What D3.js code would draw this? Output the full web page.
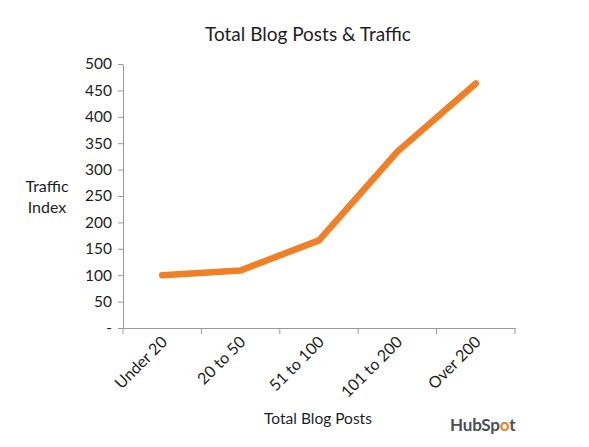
<!DOCTYPE html>
<html><head><meta charset="utf-8">
<script src="https://cdn.jsdelivr.net/npm/d3@7"></script>
<style>body{margin:0;background:#fff}svg{display:block}text{font-family:Lato,"Open Sans",sans-serif;fill:#1e1e1e}</style>
</head><body><svg id="c" width="589" height="447"></svg>
<script>
const categories = ["Under 20", "20 to 50", "51 to 100", "101 to 200", "Over 200"];
const trafficIndex = [100, 109, 166, 334, 463];
const yTickValues = [0, 50, 100, 150, 200, 250, 300, 350, 400, 450, 500];
const yTickLabels = ["-", "50", "100", "150", "200", "250", "300", "350", "400", "450", "500"];

const svg = d3.select("#c");
const x = d3.scaleBand().domain(categories).range([123, 515]);
const y = d3.scaleLinear().domain([0, 500]).range([328, 64]);

const yAxis = svg.append("g").attr("transform", "translate(123,0)")
  .call(d3.axisLeft(y).tickValues(yTickValues).tickFormat((d, i) => yTickLabels[i]).tickSize(5).tickPadding(6).tickSizeOuter(0));
yAxis.selectAll("line,path").attr("stroke", "#999");
yAxis.selectAll("text").attr("font-size", 15.5).style("font-family", "Lato,sans-serif").attr("fill", "#1e1e1e");

const xAxis = svg.append("g").attr("transform", "translate(0,328)")
  .call(d3.axisBottom(x).tickSize(0).tickFormat(""));
xAxis.selectAll("path").attr("stroke", "#999");
svg.append("g").selectAll("line")
  .data(categories.map(c => x(c)).concat([x.range()[1]]))
  .join("line").attr("x1", d => d).attr("x2", d => d).attr("y1", 328).attr("y2", 334).attr("stroke", "#999");

svg.append("g").selectAll("text").data(categories).join("text")
  .attr("transform", d => `translate(${x(d) + x.bandwidth() / 2 + 6},${343}) rotate(-45)`)
  .attr("text-anchor", "end").attr("font-size", 16).text(d => d);

const line = d3.line().x((d, i) => x(categories[i]) + x.bandwidth() / 2).y(d => y(d));
svg.append("path").datum(trafficIndex).attr("d", line)
  .attr("fill", "none").attr("stroke", "#F07F26").attr("stroke-width", 6.5)
  .attr("stroke-linecap", "round").attr("stroke-linejoin", "round");

svg.append("text").attr("x", 308).attr("y", 41).attr("text-anchor", "middle").attr("font-size", 19).text("Total Blog Posts & Traffic");
svg.append("text").attr("x", 47).attr("y", 192).attr("text-anchor", "middle").attr("font-size", 16).text("Traffic");
svg.append("text").attr("x", 47).attr("y", 213).attr("text-anchor", "middle").attr("font-size", 16).text("Index");
svg.append("text").attr("x", 318).attr("y", 424).attr("text-anchor", "middle").attr("font-size", 15.5).text("Total Blog Posts");

const logo = svg.append("text").attr("x", 450).attr("y", 431).attr("font-size", 17).attr("font-weight", 700).style("letter-spacing", "-0.2px");
logo.append("tspan").style("fill", "#4a4f55").text("HubSp");
logo.append("tspan").style("fill", "#F07F26").text("o");
logo.append("tspan").style("fill", "#4a4f55").text("t");
</script></body></html>
